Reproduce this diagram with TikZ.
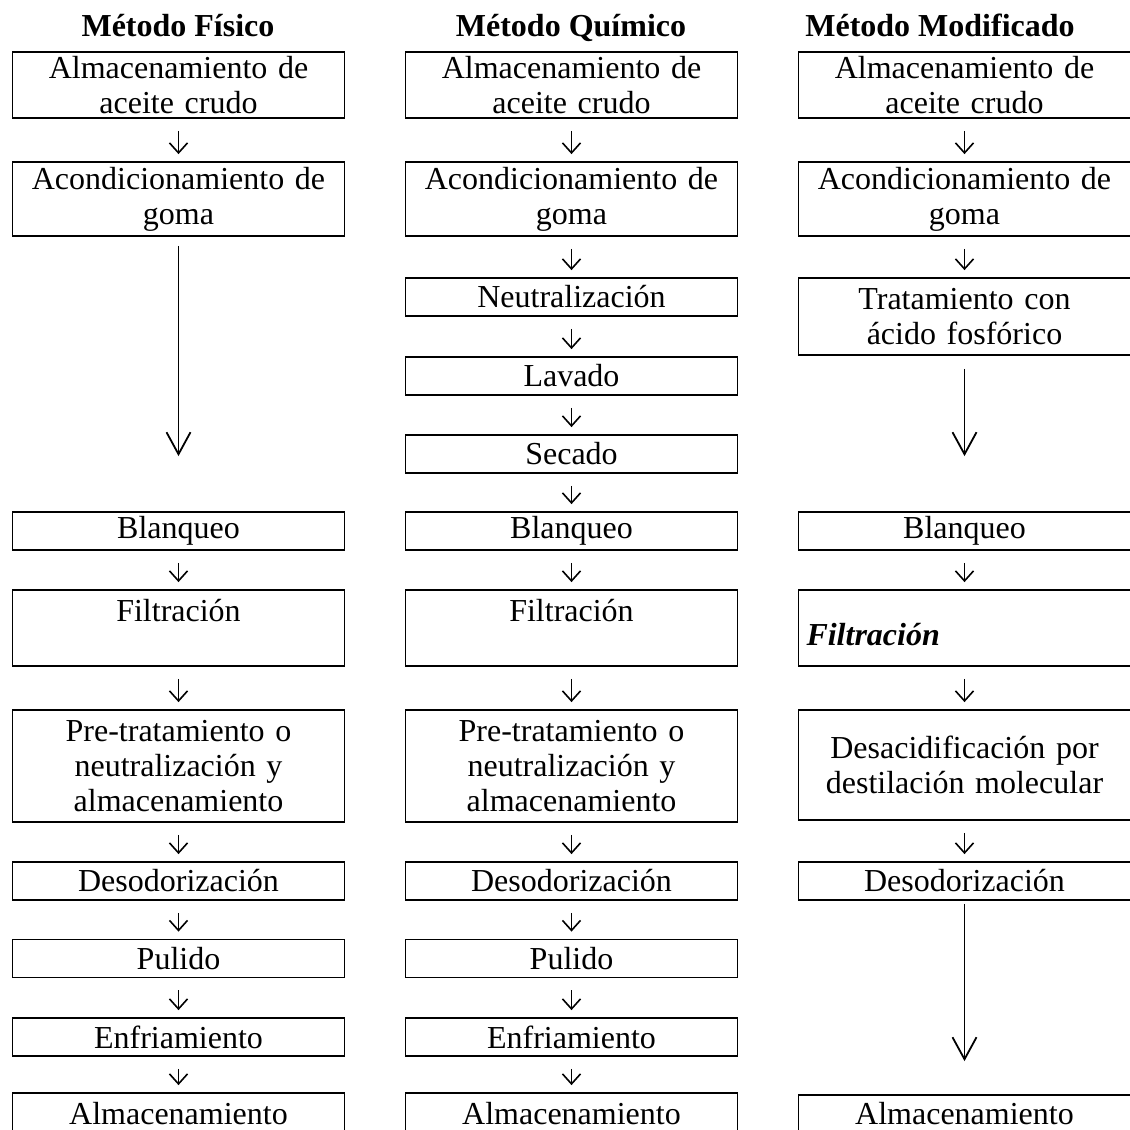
\documentclass[tikz,border=0pt]{standalone}
\usepackage{fontspec}
\setmainfont{Liberation Serif}
\usepackage{tikz}
\usetikzlibrary{arrows.meta}

\begin{document}
\begin{tikzpicture}[x=0.5pt, y=-0.5pt,
	box/.style={draw, line width=0.9pt, text width=158pt, inner xsep=4pt, inner ysep=0pt,
		minimum height=19pt, align=center, font=\fontsize{16}{17.5}\selectfont},
	head/.style={anchor=base, font=\bfseries\fontsize{16}{17.5}\selectfont},
	arr/.style={-{Straight Barb[length=5pt, width=9pt]}, line width=0.8pt, shorten <=6pt, shorten >=3.5pt},
	longarr/.style={-{Straight Barb[length=11pt, width=12pt]}, line width=0.9pt}]
			\useasboundingbox (0,0) rectangle (1130,1130);
			\clip (0,0) rectangle (1130,1130);
			% Headers
			\node[head] (hf) at (178,36) {Método Físico};
			\node[head] (hq) at (571,36) {Método Químico};
			\node[head] (hm) at (940,36) {Método Modificado};
			% Nodes
			\node[box, minimum height=33pt] (f1) at (178.5,85) {Almacenamiento de\\aceite crudo};
			\node[box, minimum height=37pt] (f2) at (178.5,199) {Acondicionamiento de\\goma};
			\node[box] (f3) at (178.5,531) {Blanqueo};
			\node[box, minimum height=38pt] (f4) at (178.5,628) {Filtración\\\mbox{}};
			\node[box, minimum height=56pt] (f5) at (178.5,766) {Pre-tratamiento o\\neutralización y\\almacenamiento};
			\node[box] (f6) at (178.5,881) {Desodorización};
			\node[box] (f7) at (178.5,958.5) {Pulido};
			\node[box] (f8) at (178.5,1037) {Enfriamiento};
			\node[box, minimum height=21pt] (f9) at (178.5,1114) {Almacenamiento};

			\node[box, minimum height=33pt] (q1) at (571.5,85) {Almacenamiento de\\aceite crudo};
			\node[box, minimum height=37pt] (q2) at (571.5,199) {Acondicionamiento de\\goma};
			\node[box] (q3) at (571.5,297) {Neutralización};
			\node[box] (q4) at (571.5,376) {Lavado};
			\node[box] (q5) at (571.5,454) {Secado};
			\node[box] (q6) at (571.5,531) {Blanqueo};
			\node[box, minimum height=38pt] (q7) at (571.5,628) {Filtración\\\mbox{}};
			\node[box, minimum height=56pt] (q8) at (571.5,766) {Pre-tratamiento o\\neutralización y\\almacenamiento};
			\node[box] (q9) at (571.5,881) {Desodorización};
			\node[box] (q10) at (571.5,958.5) {Pulido};
			\node[box] (q11) at (571.5,1037) {Enfriamiento};
			\node[box, minimum height=21pt] (q12) at (571.5,1114) {Almacenamiento};

			\node[box, minimum height=33pt] (m1) at (964.5,85) {Almacenamiento de\\aceite crudo};
			\node[box, minimum height=37pt] (m2) at (964.5,199) {Acondicionamiento de\\goma};
			\node[box, minimum height=38.5pt] (m3) at (964.5,316.5) {Tratamiento con\\ácido fosfórico};
			\node[box] (m4) at (964.5,531) {Blanqueo};
			\node[box, minimum height=38pt, align=left] (m5) at (964.5,628) {\mbox{}\\\textbf{\textit{Filtración}}};
			\node[box, minimum height=55pt] (m6) at (964.5,765) {Desacidificación por\\destilación molecular};
			\node[box] (m7) at (964.5,881) {Desodorización};
			\node[box, minimum height=19pt] (m8) at (964.5,1114) {Almacenamiento};
			% Arrows
			\foreach \a/\b in {f1/f2, f3/f4, f4/f5, f5/f6, f6/f7, f7/f8, f8/f9,
				q1/q2, q2/q3, q3/q4, q4/q5, q5/q6, q6/q7, q7/q8, q8/q9, q9/q10, q10/q11, q11/q12,
				m1/m2, m2/m3, m4/m5, m5/m6, m6/m7} {
				\draw[arr] (\a) -- (\b);
			}
			\draw[longarr, shorten <=4.5pt, shorten >=27.5pt] (f2) -- (f3);
			\draw[longarr, shorten <=6.5pt, shorten >=27.5pt] (m3) -- (m4);
			\draw[longarr, shorten <=1.5pt, shorten >=16.5pt] (m7) -- (m8);
		\end{tikzpicture}
\end{document}
